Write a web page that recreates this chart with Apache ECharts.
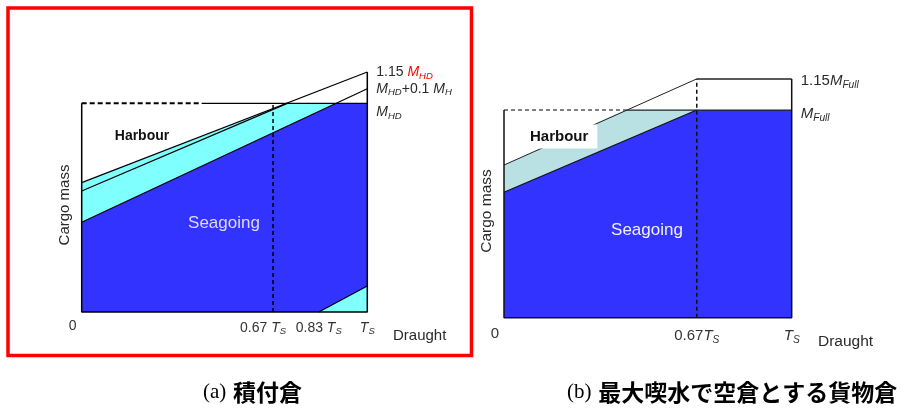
<!DOCTYPE html>
<html>
<head>
<meta charset="utf-8">
<script src="https://cdn.jsdelivr.net/npm/echarts@6/dist/echarts.min.js"></script>
<style>
  html, body { margin: 0; padding: 0; background: #fff; }
  #chart { width: 904px; height: 410px; }
</style>
</head>
<body>
<div id="chart"></div>
<script>
// Draught in units of T_S (x), cargo mass in units of M_HD / M_Full (y).

// (a) loaded hold
const aHarbourUpper   = [[0, 0.62], [1, 1.15]];          // 1.15 M_HD
const aHarbourLower   = [[0, 0.58], [0.72, 1]];
const aSeagoingUpper  = [[0, 0.43], [1, 1.07]];          // M_HD + 0.1 M_H
const aHarbourFill    = [[0, 0.62], [0.72, 1], [1, 1]];
const aSeagoingFill   = [[0, 0.43], [0.89, 1], [1, 1]];
const aDeepDraught    = [[0.83, 0], [1, 0.125]];
const aMaxDashed      = [[0, 1], [0.42, 1]];
const aMaxSolid       = [[0.42, 1], [1, 1]];              // M_HD
const aDraughtMark    = [[0.67, 0], [0.67, 1]];
const aFrame          = [[0, 1], [0, 0], [1, 0], [1, 1.15]];
const aTickValues     = [0, 0.67, 0.83, 1];
const aTickLabels     = ['{zero|0}', '{n|0.67 }{i|T}{subL|S}', '{n|0.83 }{i|T}{sub|S}', '{i|T}{sub|S}'];

// (b) hold empty at maximum draught
const bHarbourUpper   = [[0, 0.735], [0.67, 1.15]];
const bSeagoingUpper  = [[0, 0.604], [0.67, 1]];
const bHarbourFill    = [[0, 0.735], [0.42, 1], [0.67, 1]];
const bSeagoingFill   = [[0, 0.604], [0.67, 1], [1, 1]];
const bMaxDashed      = [[0, 1], [0.42, 1]];
const bMaxSolid       = [[0.42, 1], [1, 1]];              // M_Full
const bFullTop        = [[0.67, 1.15], [1, 1.15]];        // 1.15 M_Full
const bDraughtMark    = [[0.67, 0], [0.67, 1.15]];
const bFrame          = [[0, 1], [0, 0], [1, 0], [1, 1.15]];
const bTickValues     = [0, 0.67, 1];
const bTickLabels     = ['{zero|0}', '{n|0.67}{i|T}{sub|S}', '{i|T}{sub|S}'];

const FONT = 'Arial, "Liberation Sans", sans-serif';
const INK = '#2a2a2a';
const BLUE = '#3333ff';

function richSet(size, color) {
  const subPad = size * 0.55;
  return {
    n:    { fontFamily: FONT, fontSize: size, color: color },
    i:    { fontFamily: FONT, fontSize: size, fontStyle: 'italic', color: color },
    sub:  { fontFamily: FONT, fontSize: size * 0.68, fontStyle: 'italic', color: color, padding: [subPad, 0, 0, 0] },
    // subscript that also nudges its whole label a little to the left
    subL: { fontFamily: FONT, fontSize: size * 0.68, fontStyle: 'italic', color: color, padding: [subPad, 20, 0, 0] },
    r:    { fontFamily: FONT, fontSize: size, fontStyle: 'italic', color: '#ff0000' },
    rsub: { fontFamily: FONT, fontSize: size * 0.68, fontStyle: 'italic', color: '#ff0000', padding: [subPad, 0, 0, 0] },
    zero: { fontFamily: FONT, fontSize: size, color: color, padding: [0, 18, 0, 0] }
  };
}

function tickFormatter(values, labels) {
  return function (v) {
    const k = values.findIndex(t => Math.abs(t - v) < 1e-6);
    return k < 0 ? '' : labels[k];
  };
}

function xAxisFor(gridIndex, values, labels, size, margin) {
  return {
    gridIndex: gridIndex, type: 'value', min: 0, max: 1,
    axisLine: { show: false }, axisTick: { show: false }, splitLine: { show: false },
    axisLabel: {
      customValues: values, formatter: tickFormatter(values, labels),
      rich: richSet(size, '#333'), margin: margin, hideOverlap: false,
      showMinLabel: true, showMaxLabel: true
    }
  };
}

function yAxisFor(gridIndex) {
  return { gridIndex: gridIndex, type: 'value', min: 0, max: 1.2, show: false };
}

function area(data, panel, color) {
  return {
    type: 'line', data: data, xAxisIndex: panel, yAxisIndex: panel,
    showSymbol: false, clip: false, silent: true,
    lineStyle: { width: 0 }, areaStyle: { color: color, opacity: 1 }
  };
}

function stroke(data, panel, width, dash, color, extra) {
  return Object.assign({
    type: 'line', data: data, xAxisIndex: panel, yAxisIndex: panel,
    showSymbol: false, clip: false, silent: true,
    lineStyle: { color: color || '#000', width: width, type: dash || 'solid' }
  }, extra || {});
}

function endText(text, size, dy) {
  return {
    endLabel: {
      show: true, formatter: text, rich: richSet(size, INK),
      distance: 9, offset: [0, dy || 0]
    }
  };
}

const chart = echarts.init(document.getElementById('chart'), null, { renderer: 'canvas' });

const captionRich = {
  p: { fontFamily: '"Liberation Serif", "DejaVu Serif", serif', fontSize: 21, fill: '#000' },
  c: { fontFamily: '"Noto Sans CJK JP", sans-serif', fontSize: 23, fontWeight: 'bold', fill: '#000' }
};

chart.setOption({
  animation: false,
  backgroundColor: '#fff',
  grid: [
    { left: 81.7, top: 61.6, width: 285.6, height: 250.4, outerBoundsMode: 'none' },
    { left: 504, top: 68.5, width: 287.7, height: 249.2, outerBoundsMode: 'none' }
  ],
  xAxis: [
    xAxisFor(0, aTickValues, aTickLabels, 14, 7),
    xAxisFor(1, bTickValues, bTickLabels, 15, 9)
  ],
  yAxis: [yAxisFor(0), yAxisFor(1)],
  series: [
    // (a)
    area(aHarbourFill, 0, '#80ffff'),
    area(aSeagoingFill, 0, BLUE),
    Object.assign(area(aDeepDraught, 0, '#80ffff'), { lineStyle: { color: '#000', width: 1.2 } }),
    stroke(aHarbourLower, 0, 1.2),
    stroke(aHarbourUpper, 0, 1.2, null, null, endText('{n|1.15 }{r|M}{rsub|HD}', 14)),
    stroke(aSeagoingUpper, 0, 1.2, null, null, endText('{i|M}{sub|HD}{n|+0.1 }{i|M}{sub|H}', 14)),
    stroke(aMaxDashed, 0, 2, [5, 3]),
    stroke(aMaxSolid, 0, 1.2, null, null, endText('{i|M}{sub|HD}', 14, 9)),
    stroke(aDraughtMark, 0, 1.5, [4, 3]),
    stroke(aFrame, 0, 1.5),
    // (b)
    area(bHarbourFill, 1, '#b9e1e3'),
    area(bSeagoingFill, 1, BLUE),
    stroke(bHarbourUpper, 1, 1, null, '#222'),
    stroke(bSeagoingUpper, 1, 1.2, null, '#111'),
    stroke(bMaxDashed, 1, 1.5, [4, 3], '#555'),
    stroke(bMaxSolid, 1, 1.2, null, '#222', endText('{i|M}{sub|Full}', 15, 4)),
    stroke(bFullTop, 1, 1.5, null, '#222', endText('{n|1.15}{i|M}{sub|Full}', 15, 2)),
    stroke(bDraughtMark, 1, 1.5, [4, 3], '#111'),
    stroke(bFrame, 1, 1.5, null, '#111')
  ],
  graphic: [
    { type: 'rect', z: 100, shape: { x: 8, y: 8, width: 463.5, height: 347.5 },
      style: { fill: 'none', stroke: '#ff0000', lineWidth: 3.5 } },

    // axis titles
    { type: 'text', x: 65, y: 205, rotation: Math.PI / 2, z: 100,
      style: { text: 'Cargo mass', font: '15px ' + FONT, fill: INK, align: 'center', verticalAlign: 'middle' } },
    { type: 'text', x: 393, y: 336, z: 100,
      style: { text: 'Draught', font: '15px ' + FONT, fill: INK, align: 'left', verticalAlign: 'middle' } },
    { type: 'text', x: 487, y: 211, rotation: Math.PI / 2, z: 100,
      style: { text: 'Cargo mass', font: '15.5px ' + FONT, fill: INK, align: 'center', verticalAlign: 'middle' } },
    { type: 'text', x: 818, y: 342, z: 100,
      style: { text: 'Draught', font: '15.5px ' + FONT, fill: INK, align: 'left', verticalAlign: 'middle' } },

    // region names
    { type: 'text', x: 142, y: 136, z: 100,
      style: { text: 'Harbour', font: 'bold 14px ' + FONT, fill: '#111', align: 'center', verticalAlign: 'middle' } },
    { type: 'text', x: 224, y: 223, z: 100,
      style: { text: 'Seagoing', font: '17px ' + FONT, fill: '#dcdcff', align: 'center', verticalAlign: 'middle' } },
    { type: 'text', x: 527, y: 136.5, z: 100,
      style: { text: 'Harbour', font: 'bold 15px ' + FONT, fill: '#111', align: 'left', verticalAlign: 'middle',
               backgroundColor: '#fff', padding: [5, 9, 4, 3] } },
    { type: 'text', x: 647, y: 230, z: 100,
      style: { text: 'Seagoing', font: '17px ' + FONT, fill: '#f0f0ff', align: 'center', verticalAlign: 'middle' } },

    // captions
    { type: 'text', x: 203, y: 392, z: 100,
      style: { text: '{p|(a)}  {c|積付倉}', align: 'left', verticalAlign: 'middle', rich: captionRich } },
    { type: 'text', x: 567, y: 392, z: 100,
      style: { text: '{p|(b)}  {c|最大喫水で空倉とする貨物倉}', align: 'left', verticalAlign: 'middle', rich: captionRich } }
  ]
});
</script>
</body>
</html>
